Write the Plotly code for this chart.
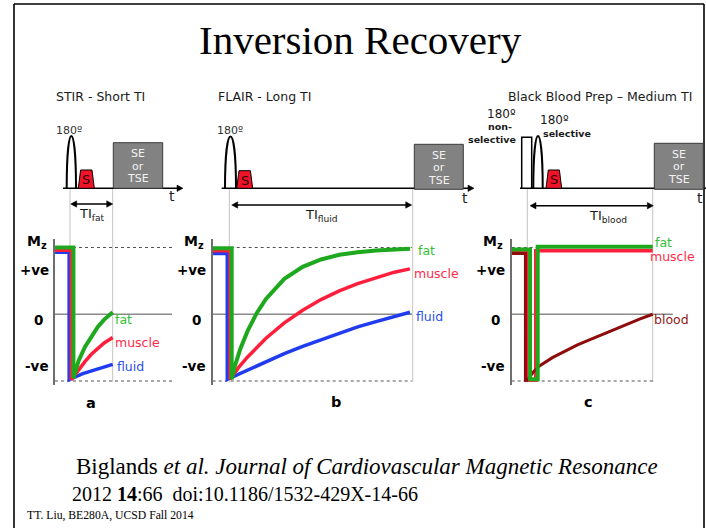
import plotly.graph_objects as go

W, H = 706, 528

# ================= DATA =================
# time in units of TI (0 = inversion pulse, 1 = readout), Mz in units of M0
# Panel a : STIR - short TI
a_fat_t     = [-0.35, 0.08, 0.08, 0.20, 0.35, 0.50, 0.65, 0.80, 1.00]
a_fat_mz    = [1.00, 1.00, -0.96, -0.70, -0.49, -0.33, -0.19, -0.08, 0.03]
a_muscle_t  = [-0.35, 0.03, 0.03, 0.20, 0.35, 0.50, 0.65, 0.80, 1.00]
a_muscle_mz = [0.96, 0.96, -0.98, -0.83, -0.71, -0.60, -0.51, -0.43, -0.35]
a_fluid_t   = [-0.35, -0.02, -0.02, 0.15, 0.30, 0.45, 0.60, 0.80, 1.00]
a_fluid_mz  = [0.93, 0.93, -0.98, -0.93, -0.89, -0.86, -0.83, -0.79, -0.75]

# Panel b : FLAIR - long TI
b_fat_t     = [-0.09, 0.013, 0.013, 0.03, 0.06, 0.10, 0.15, 0.20, 0.30, 0.40, 0.50, 0.60, 0.70, 0.80, 0.985]
b_fat_mz    = [0.99, 0.99, -0.975, -0.78, -0.52, -0.25, 0.02, 0.23, 0.53, 0.71, 0.82, 0.89, 0.93, 0.955, 0.98]
b_muscle_t  = [-0.09, 0.004, 0.004, 0.05, 0.10, 0.15, 0.20, 0.30, 0.40, 0.50, 0.60, 0.70, 0.80, 0.90, 0.985]
b_muscle_mz = [0.95, 0.95, -0.975, -0.80, -0.64, -0.50, -0.36, -0.13, 0.06, 0.22, 0.35, 0.46, 0.55, 0.63, 0.68]
b_fluid_t   = [-0.09, -0.011, -0.011, 0.05, 0.10, 0.15, 0.20, 0.30, 0.40, 0.50, 0.60, 0.70, 0.80, 0.90, 0.985]
b_fluid_mz  = [0.91, 0.91, -0.975, -0.90, -0.84, -0.77, -0.71, -0.59, -0.48, -0.38, -0.28, -0.19, -0.11, -0.03, 0.03]

# Panel c : black-blood prep - medium TI
c_fat_t     = [-0.124, 0.022, 0.022, 0.083, 0.083, 1.0]
c_fat_mz    = [0.97, 0.97, -0.975, -0.975, 1.01, 1.01]
c_muscle_t  = [-0.124, -0.005, -0.005, 0.067, 0.067, 1.0]
c_muscle_mz = [0.95, 0.95, -0.99, -0.99, 0.95, 0.95]
c_blood_t   = [-0.124, -0.015, -0.015, 0.0, 0.05, 0.10, 0.20, 0.30, 0.40, 0.50, 0.60, 0.70, 0.80, 0.90, 1.00]
c_blood_mz  = [0.91, 0.91, -0.99, -0.99, -0.86, -0.77, -0.65, -0.55, -0.46, -0.38, -0.30, -0.22, -0.14, -0.07, 0.00]

panel_titles = ["STIR - Short TI", "FLAIR - Long TI", "Black Blood Prep \u2013 Medium TI"]
panel_letters = ["a", "b", "c"]
ti_labels = ["TI<sub>fat</sub>", "TI<sub>fluid</sub>", "TI<sub>blood</sub>"]
mz_tick_labels = ["M<sub>z</sub>", "+ve", "0", "-ve"]
title_text = "Inversion Recovery"
cite_line1 = "Biglands <i>et al. Journal of Cardiovascular Magnetic Resonance</i>"
cite_line2 = "2012 <b>14</b>:66\u00a0\u00a0doi:10.1186/1532-429X-14-66"
footer_text = "TT. Liu, BE280A, UCSD Fall 2014"

# ================= STYLE =================
GREEN = "#1ea81e"
RED = "#ff1f3d"
BLUE = "#1f3cf0"
DRED = "#8e0c0c"
LBL_GREEN = "#33c233"
LBL_RED = "#ff2a4a"
LBL_BLUE = "#2a50e8"
LBL_DRED = "#8e1a1a"
SANS = "DejaVu Sans"
SERIF = "Liberation Serif"

fig = go.Figure()
shapes = []
ann = []


def px_y(p):
    return 1 - p / H


def px_x(p):
    return p / W


def cline(x0, y0, x1, y1, color="black", width=1.5, dash=None, layer="above"):
    d = dict(color=color, width=width)
    if dash:
        d["dash"] = dash
    shapes.append(dict(type="line", xref="x", yref="y", x0=x0, y0=y0, x1=x1, y1=y1,
                       line=d, layer=layer))


def cpath(path, fill="rgba(0,0,0,0)", color="black", width=1.5):
    shapes.append(dict(type="path", xref="x", yref="y", path=path, fillcolor=fill,
                       line=dict(color=color, width=width)))


def crect(x0, y0, x1, y1, fill, color, width=1):
    shapes.append(dict(type="rect", xref="x", yref="y", x0=x0, y0=y0, x1=x1, y1=y1,
                       fillcolor=fill, line=dict(color=color, width=width)))


def ctext(x, y, s, size, color="black", family=SANS, xa="center", ya="middle", bold=False):
    f = dict(size=size, color=color, family=family)
    if bold:
        f["weight"] = "bold"
    ann.append(dict(xref="x", yref="y", x=x, y=y, text=s, showarrow=False,
                    xanchor=xa, yanchor=ya, borderpad=0, font=f))


def arrow_right(xtip, y, L=6, hw=3.2):
    cpath(f"M{xtip},{y} L{xtip-L},{y-hw} L{xtip-L},{y+hw} Z", fill="black", width=0.5)


def arrow_left(xtip, y, L=6, hw=3.2):
    cpath(f"M{xtip},{y} L{xtip+L},{y-hw} L{xtip+L},{y+hw} Z", fill="black", width=0.5)


def arch(x0, x1, ypk, ybase=188.3):
    h = (ybase - ypk) / 0.75
    cpath(f"M{x0},{ybase} C{x0},{ybase-h} {x1},{ybase-h} {x1},{ybase}", width=2)


def spulse(x0, x1, ytop, ybase=188.3):
    cpath(f"M{x0},{ybase} L{x0+2.3},{ytop} L{x1-2.3},{ytop} L{x1},{ybase} Z",
          fill="#f01428", width=1)
    ctext((x0 + x1) / 2, (ytop + ybase) / 2 + 0.5, "S", 13, "#300000")


def readout(x0, y0, x1, y1):
    crect(x0, y0, x1, y1, "#828282", "#3a3a3a", 1)
    cx = (x0 + x1) / 2
    ctext(cx, y0 + 11, "SE", 11, "#f2f2f2")
    ctext(cx, y0 + 23.5, "or", 11, "#f2f2f2")
    ctext(cx, y0 + 36, "TSE", 11, "#f2f2f2")


# ---------------- frame, title, citation ----------------
cline(14, 4, 14, H, width=1.6)
cline(14, 4, 704, 4, width=1.6)
cline(704, 4, 704, H, width=1.6)
ctext(360, 40, title_text, 41, family=SERIF)
ctext(75, 466, cite_line1, 23, family=SERIF, xa="left")
ctext(71, 494, cite_line2, 20, family=SERIF, xa="left")
ctext(26, 515, footer_text, 11.7, family=SERIF, xa="left")

# ---------------- panel geometry (pixels) ----------------
panels = [
    dict(x_dom=(55, 175), t0px=70.0, t1px=112.7, zero_end=2.39, dash_end=2.41),
    dict(x_dom=(212.7, 414), t0px=229.3, t1px=412.7, zero_end=0.996, dash_end=0.995),
    dict(x_dom=(511.7, 675), t0px=527.3, t1px=652.7, zero_end=1.16, dash_end=1.0),
]
Y_DOM_PX = (385, 239)
Y_RANGE = [-1.06, 1.127]

curves = [
    [(a_fluid_t, a_fluid_mz, BLUE, 3.5), (a_muscle_t, a_muscle_mz, RED, 3.5), (a_fat_t, a_fat_mz, GREEN, 4)],
    [(b_fluid_t, b_fluid_mz, BLUE, 3.5), (b_muscle_t, b_muscle_mz, RED, 3.5), (b_fat_t, b_fat_mz, GREEN, 4)],
    [(c_muscle_t, c_muscle_mz, RED, 3.5), (c_blood_t, c_blood_mz, DRED, 3), (c_fat_t, c_fat_mz, GREEN, 4)],
]

layout_axes = {}
for i, p in enumerate(panels):
    n = i + 2
    span = p["t1px"] - p["t0px"]
    xr = [(p["x_dom"][0] - p["t0px"]) / span, (p["x_dom"][1] - p["t0px"]) / span]
    layout_axes[f"xaxis{n}"] = dict(domain=[px_x(p["x_dom"][0]), px_x(p["x_dom"][1])],
                                   range=xr, visible=False, anchor=f"y{n}")
    layout_axes[f"yaxis{n}"] = dict(domain=[px_y(Y_DOM_PX[0]), px_y(Y_DOM_PX[1])],
                                   range=Y_RANGE, anchor=f"x{n}", showline=True,
                                   linecolor="#6e6e6e", linewidth=2, showticklabels=False,
                                   showgrid=False, zeroline=False, ticks="")
    # zero line and +/-1 dashed guides
    shapes.append(dict(type="line", xref=f"x{n}", yref=f"y{n}", x0=xr[0], x1=p["zero_end"],
                       y0=0, y1=0, line=dict(color="#8a8a8a", width=1.5), layer="below"))
    for lev in (1, -1):
        shapes.append(dict(type="line", xref=f"x{n}", yref=f"y{n}", x0=xr[0], x1=p["dash_end"],
                           y0=lev, y1=lev, line=dict(color="#505050", width=1, dash="dot"),
                           layer="below"))
    for t, mz, col, w in curves[i]:
        fig.add_trace(go.Scatter(x=t, y=mz, mode="lines", line=dict(color=col, width=w),
                                 xaxis=f"x{n}", yaxis=f"y{n}", hoverinfo="skip",
                                 showlegend=False))
    # TI guide lines
    for xx in (p["t0px"], p["t1px"]):
        cline(xx, 188.3, xx, 382, color="#c4c4c4", width=1, layer="below")
    # axis tick labels
    ax = p["x_dom"][0]
    ctext(ax - 29.5, 241.5, mz_tick_labels[0], 14, bold=True, xa="left")
    ctext(ax - 5.5, 269.5, mz_tick_labels[1], 13.5, bold=True, xa="right")
    ctext(ax - 16.5, 319.5, mz_tick_labels[2], 13.5, bold=True)
    ctext(ax - 5.5, 366, mz_tick_labels[3], 13.5, bold=True, xa="right")

ctext(90.5, 403, panel_letters[0], 14.5, bold=True)
ctext(336, 402, panel_letters[1], 14.5, bold=True)
ctext(588, 402, panel_letters[2], 14.5, bold=True)

# tissue labels
ctext(114, 319, "fat", 12.5, LBL_GREEN, xa="left")
ctext(114, 342, "muscle", 12.5, LBL_RED, xa="left")
ctext(116, 366, "fluid", 12.5, LBL_BLUE, xa="left")
ctext(417, 250, "fat", 12.5, LBL_GREEN, xa="left")
ctext(413, 273, "muscle", 12.5, LBL_RED, xa="left")
ctext(415, 316, "fluid", 12.5, LBL_BLUE, xa="left")
ctext(654, 242.5, "fat", 12.5, LBL_GREEN, xa="left")
ctext(649, 256.5, "muscle", 12.5, LBL_RED, xa="left")
ctext(653, 319.5, "blood", 12.5, LBL_DRED, xa="left")

# ---------------- pulse-sequence diagrams ----------------
# panel a
ctext(55, 96, panel_titles[0], 12.5, "#1a1a1a", xa="left")
cline(63, 188.3, 177, 188.3)
arrow_right(183, 188.3)
ctext(172, 196, "t", 14, "#1a1a1a")
arch(66.7, 76, 136)
ctext(68.5, 130, "180\u00ba", 11, "#333333")
spulse(78.3, 94.3, 170)
readout(113.3, 142.7, 162.7, 188.3)
cline(76, 204, 107.5, 204)
arrow_left(70.7, 204)
arrow_right(112.7, 204)
ctext(92, 214, ti_labels[0], 13, "#1a1a1a")

# panel b
ctext(216.5, 96, panel_titles[1], 12.5, "#1a1a1a", xa="left")
cline(221.7, 188.3, 468, 188.3)
arrow_right(474, 188.3)
ctext(465, 198, "t", 14, "#1a1a1a")
arch(225, 236, 136.5)
ctext(230, 130, "180\u00ba", 11, "#333333")
spulse(236.7, 252.7, 170.7)
readout(414.3, 144.3, 463.3, 189.3)
cline(237, 205, 406.5, 205)
arrow_left(231.7, 205)
arrow_right(411.7, 205)
ctext(321, 215, ti_labels[1], 13, "#1a1a1a")

# panel c
ctext(506.5, 96, panel_titles[2], 12.5, "#1a1a1a", xa="left")
cline(520, 188.3, 706, 188.3)
ctext(700, 198, "t", 14, "#1a1a1a")
crect(521.7, 137.3, 531.7, 188.3, "white", "black", 1.5)
arch(533.3, 542.7, 136)
ctext(501, 113.5, "180\u00ba", 12, "#1a1a1a")
ctext(513, 126.5, "non-", 9.5, "#1a1a1a", xa="right", bold=True)
ctext(517, 139.5, "selective", 9.5, "#1a1a1a", xa="right", bold=True)
ctext(554, 120, "180\u00ba", 12, "#1a1a1a")
ctext(541.5, 133, "selective", 9.5, "#1a1a1a", xa="left", bold=True)
spulse(546, 561.7, 170)
readout(654.3, 143.3, 703.3, 189.3)
cline(535.5, 205.7, 647.5, 205.7)
arrow_left(530, 205.7)
arrow_right(653.3, 205.7)
ctext(607.5, 216.5, ti_labels[2], 13, "#1a1a1a")

fig.update_layout(
    width=W, height=H,
    margin=dict(l=0, r=0, t=0, b=0),
    paper_bgcolor="white",
    plot_bgcolor="rgba(0,0,0,0)",
    xaxis=dict(domain=[0, 1], range=[0, W], visible=False),
    yaxis=dict(domain=[0, 1], range=[H, 0], visible=False),
    shapes=shapes,
    annotations=ann,
    showlegend=False,
    **layout_axes,
)

fig.write_html("out.html", config={"displayModeBar": False},
               post_script="document.body.style.margin='0';")
